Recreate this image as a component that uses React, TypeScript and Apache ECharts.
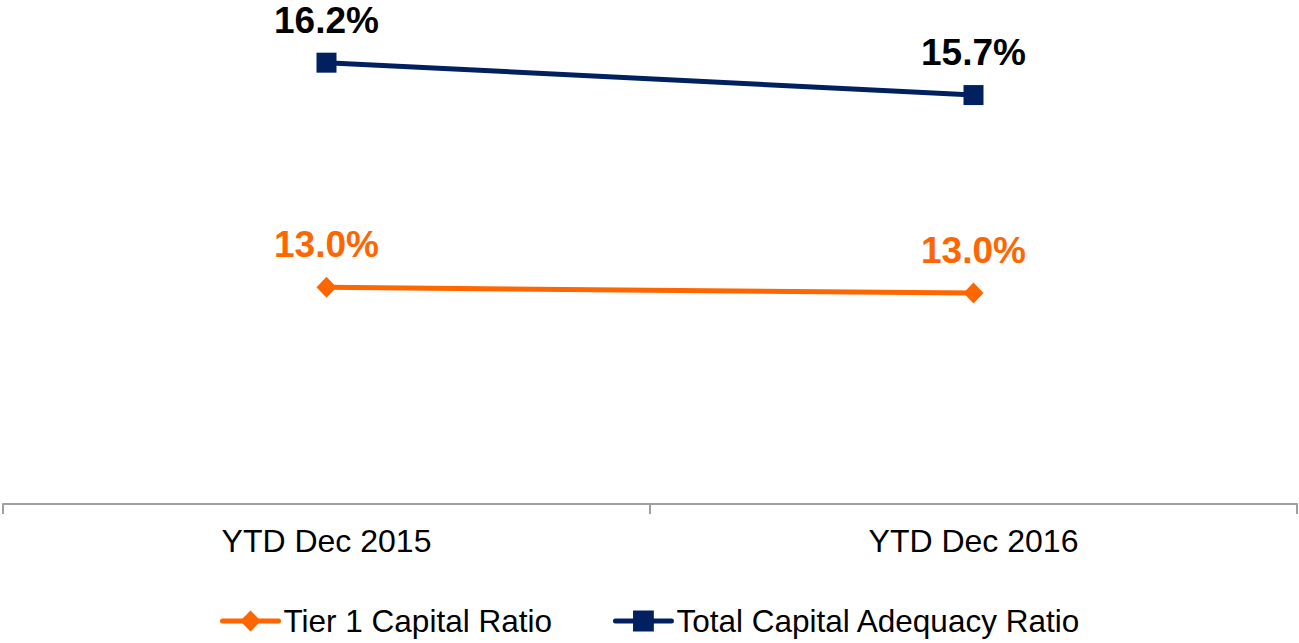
import React, { useEffect, useRef } from "react";
import * as echarts from "echarts";

const categories = ["YTD Dec 2015", "YTD Dec 2016"];
const tier1Values = [13.04, 12.96];
const totalValues = [16.16, 15.71];
const seriesNames = ["Tier 1 Capital Ratio", "Total Capital Adequacy Ratio"];

const ORANGE = "#FF6600";
const NAVY = "#002060";
const FONT = "'Liberation Sans', Arial, sans-serif";

export default function App() {
  const ref = useRef<HTMLDivElement>(null);
  useEffect(() => {
    if (!ref.current) return;
    const chart = echarts.init(ref.current, undefined, { renderer: "svg" });
    const fmt = (p: any) => (p.value as number).toFixed(1) + "%";
    chart.setOption({
      animation: false,
      backgroundColor: "#ffffff",
      textStyle: { fontFamily: FONT },
      grid: { left: 3, right: 2, top: 2.2, bottom: 139, containLabel: false },
      xAxis: {
        type: "category",
        data: categories,
        boundaryGap: true,
        axisLine: { show: true, lineStyle: { color: "#A0A0A0", width: 2 } },
        axisTick: { show: true, length: 10, lineStyle: { color: "#A0A0A0", width: 2 } },
        axisLabel: { color: "#000000", fontSize: 32, fontFamily: FONT, margin: 21 },
        splitLine: { show: false },
      },
      yAxis: {
        type: "value",
        min: 10.03,
        max: 17,
        show: false,
        splitLine: { show: false },
      },
      legend: {
        left: 215,
        top: 600,
        itemWidth: 56,
        itemHeight: 26,
        itemGap: 61,
        lineStyle: { width: 5, cap: "round" },
        textStyle: { color: "#000000", fontSize: 31.5, fontFamily: FONT },
        data: seriesNames,
      },
      series: [
        {
          name: seriesNames[0],
          type: "line",
          data: tier1Values,
          symbol: "diamond",
          symbolSize: [20, 21],
          lineStyle: { color: ORANGE, width: 5 },
          itemStyle: { color: ORANGE },
          label: {
            show: true,
            position: "top",
            distance: 14,
            formatter: fmt,
            color: ORANGE,
            fontSize: 37,
            fontWeight: "bold",
            fontFamily: FONT,
          },
        },
        {
          name: seriesNames[1],
          type: "line",
          data: totalValues,
          symbol: "rect",
          symbolSize: 20,
          lineStyle: { color: NAVY, width: 5 },
          itemStyle: { color: NAVY },
          label: {
            show: true,
            position: "top",
            distance: 14,
            formatter: fmt,
            color: "#000000",
            fontSize: 37,
            fontWeight: "bold",
            fontFamily: FONT,
          },
        },
      ],
    });
    return () => chart.dispose();
  }, []);
  return (
    <div
      ref={ref}
      style={{ position: "absolute", left: 0, top: 0, width: 1299, height: 643 }}
    />
  );
}
